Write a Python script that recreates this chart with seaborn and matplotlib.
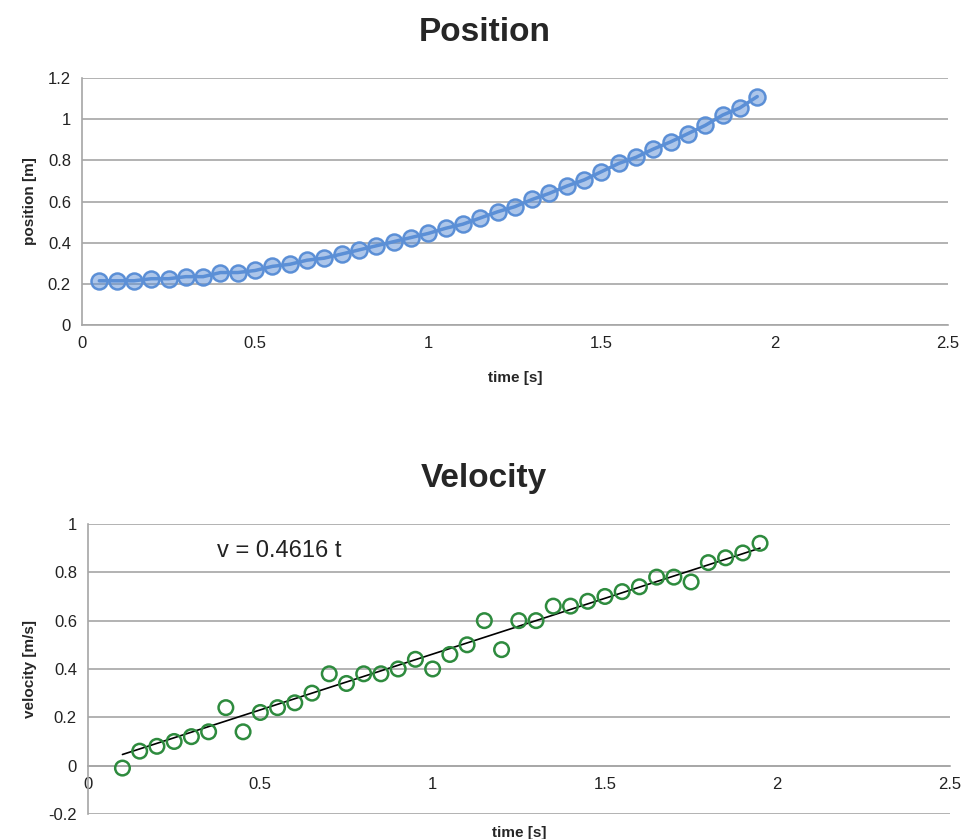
import numpy as np
import pandas as pd
import seaborn as sns
import matplotlib.pyplot as plt

# Position data
pos_t = [0.05, 0.10, 0.15, 0.20, 0.25, 0.30, 0.35, 0.40, 0.45, 0.50,
         0.55, 0.60, 0.65, 0.70, 0.75, 0.80, 0.85, 0.90, 0.95, 1.00,
         1.05, 1.10, 1.15, 1.20, 1.25, 1.30, 1.35, 1.40, 1.45, 1.50,
         1.55, 1.60, 1.65, 1.70, 1.75, 1.80, 1.85, 1.90, 1.95]
pos_x = [0.215, 0.215, 0.215, 0.225, 0.225, 0.235, 0.235, 0.255, 0.255, 0.265,
         0.285, 0.295, 0.315, 0.325, 0.345, 0.365, 0.385, 0.405, 0.425, 0.445,
         0.470, 0.490, 0.520, 0.550, 0.575, 0.610, 0.640, 0.675, 0.705, 0.745,
         0.785, 0.815, 0.855, 0.890, 0.930, 0.970, 1.020, 1.055, 1.110]

# Velocity data
vel_t = [0.10, 0.15, 0.20, 0.25, 0.30, 0.35, 0.40, 0.45, 0.50, 0.55,
         0.60, 0.65, 0.70, 0.75, 0.80, 0.85, 0.90, 0.95, 1.00, 1.05,
         1.10, 1.15, 1.20, 1.25, 1.30, 1.35, 1.40, 1.45, 1.50, 1.55,
         1.60, 1.65, 1.70, 1.75, 1.80, 1.85, 1.90, 1.95]
vel_v = [-0.01, 0.06, 0.08, 0.10, 0.12, 0.14, 0.24, 0.14, 0.22, 0.24,
         0.26, 0.30, 0.38, 0.34, 0.38, 0.38, 0.40, 0.44, 0.40, 0.46,
         0.50, 0.60, 0.48, 0.60, 0.60, 0.66, 0.66, 0.68, 0.70, 0.72,
         0.74, 0.78, 0.78, 0.76, 0.84, 0.86, 0.88, 0.92]
slope = 0.4616

sns.set_style('white')
plt.rcParams['font.family'] = ['Liberation Sans', 'DejaVu Sans']

df_pos = pd.DataFrame({'t': pos_t, 'x': pos_x})
df_vel = pd.DataFrame({'t': vel_t, 'v': vel_v})
df_fit = pd.DataFrame({'t': [vel_t[0], vel_t[-1]]})
df_fit['v'] = slope * df_fit['t']

fig = plt.figure(figsize=(9.68, 8.39), dpi=100)
ax1 = fig.add_axes([0.0847, 0.6126, 0.8943, 0.2944])
ax2 = fig.add_axes([0.0909, 0.0298, 0.8901, 0.3457])

grid_c = '#a6a6a6'

def style_axes(ax):
    ax.yaxis.grid(True, color=grid_c, linewidth=1.2)
    ax.xaxis.grid(False)
    for s in ['top', 'right']:
        ax.spines[s].set_visible(False)
    for s in ['left', 'bottom']:
        ax.spines[s].set_color(grid_c)
        ax.spines[s].set_linewidth(1.2)
    ax.tick_params(axis='both', direction='out', length=5, width=1.2,
                   color=grid_c, labelsize=12, labelcolor='#222222', pad=3)
    ax.set_axisbelow(True)

# Position
sns.lineplot(data=df_pos, x='t', y='x', ax=ax1, color='#5b8fd6', linewidth=2.5,
             marker='o', markersize=11.5, markerfacecolor=(0.36, 0.56, 0.84, 0.5),
             markeredgecolor='#5b8fd6', markeredgewidth=1.8)
ax1.set_xlim(0, 2.5)
ax1.set_ylim(0, 1.2)
ax1.set_xticks([0, 0.5, 1, 1.5, 2, 2.5])
ax1.set_xticklabels(['0', '0.5', '1', '1.5', '2', '2.5'])
ax1.set_yticks([0, 0.2, 0.4, 0.6, 0.8, 1, 1.2])
ax1.set_yticklabels(['0', '0.2', '0.4', '0.6', '0.8', '1', '1.2'])
style_axes(ax1)
ax1.set_xlabel('time [s]', fontsize=11, fontweight='bold', labelpad=14)
ax1.set_ylabel('position [m]', fontsize=11, fontweight='bold', labelpad=8)
ax1.set_title('Position', fontsize=24, fontweight='bold', pad=26.5, x=0.465)

# Velocity
sns.scatterplot(data=df_vel, x='t', y='v', ax=ax2, s=110, marker='o',
                facecolor='none', edgecolor='#2e8b3e', linewidth=1.8, zorder=3)
sns.lineplot(data=df_fit, x='t', y='v', ax=ax2, color='black', linewidth=1.2, zorder=2)
ax2.set_xlim(0, 2.5)
ax2.set_ylim(-0.2, 1)
ax2.set_xticks([0, 0.5, 1, 1.5, 2, 2.5])
ax2.set_xticklabels(['0', '0.5', '1', '1.5', '2', '2.5'])
ax2.set_yticks([-0.2, 0, 0.2, 0.4, 0.6, 0.8, 1])
ax2.set_yticklabels(['-0.2', '0', '0.2', '0.4', '0.6', '0.8', '1'])
style_axes(ax2)
ax2.spines['bottom'].set_position(('data', 0))
ax2.set_xlabel('time [s]', fontsize=11, fontweight='bold')
ax2.xaxis.set_label_coords(0.5, -0.04)
ax2.set_ylabel('velocity [m/s]', fontsize=11, fontweight='bold', labelpad=8)
ax2.set_title('Velocity', fontsize=24, fontweight='bold', pad=26.5, x=0.459)
ax2.text(0.375, 0.89, f'v = {slope} t', fontsize=17, color='#222222',
         va='center', ha='left')

fig.savefig('out.png', dpi=100)
